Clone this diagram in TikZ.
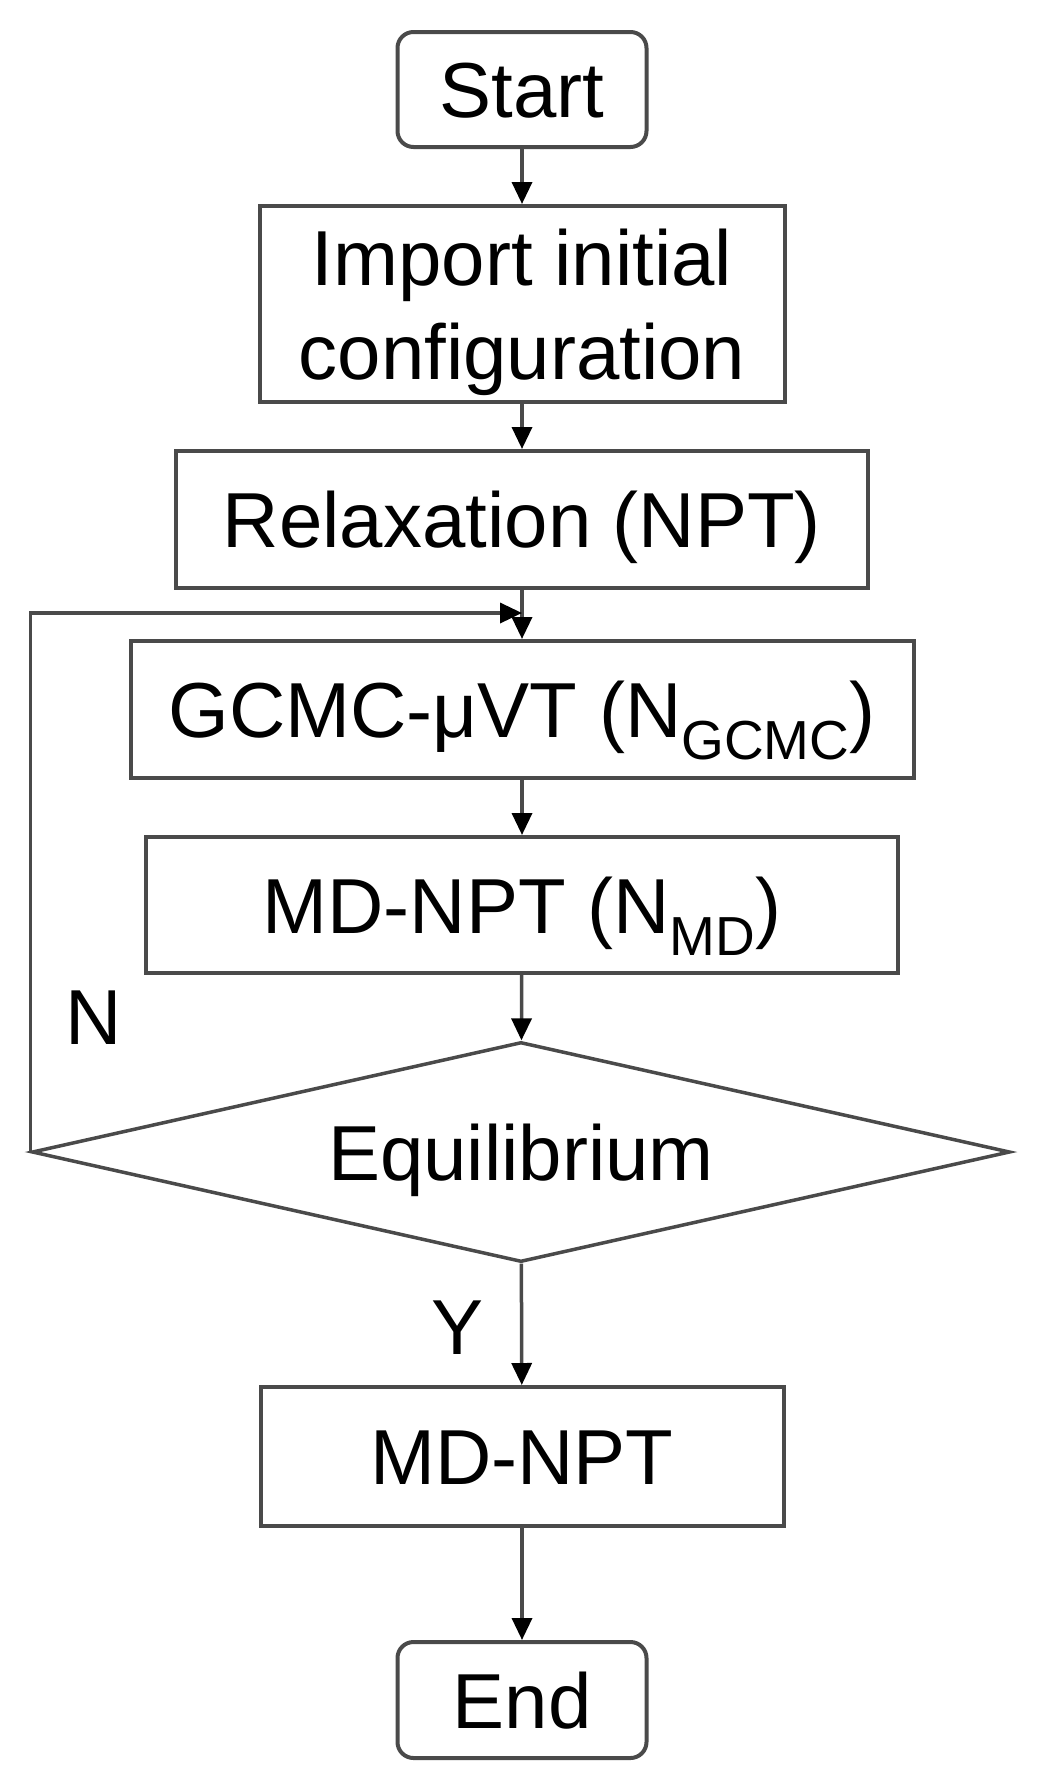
\documentclass[tikz,border=0pt]{standalone}
\usepackage{fontspec}
\setmainfont{Liberation Sans}
\usetikzlibrary{arrows.meta,shapes.geometric}
\definecolor{linegray}{HTML}{4A4A4A}
\newcommand\flowfont{\fontsize{78}{94}\selectfont}
\newcommand\lowsub[1]{\raisebox{-22pt}{\fontsize{55}{60}\selectfont #1}}
\begin{document}
\begin{tikzpicture}[x=1pt,y=-1pt,
  box/.style={draw=linegray, line width=4pt, inner sep=0pt, font=\flowfont,
              text height=56pt, text depth=0pt},
  termbox/.style={box, rounded corners=16pt},
  decision/.style={draw=linegray, line width=3.5pt, diamond, aspect=4.45,
              inner sep=0pt, font=\flowfont, text height=56pt, text depth=0pt},
  lbl/.style={inner sep=0pt, font=\flowfont, text height=56pt, text depth=0pt},
  conn/.style={draw=linegray, line width=3.5pt,
               -{Triangle[width=20pt,length=22pt,color=black]}}
]
\useasboundingbox (0,0) rectangle (1045,1780);
\fill[white] (0,0) rectangle (1045,1780);

\node[termbox, minimum width=249pt, minimum height=115pt] (start) at (522,89.5) {Start};
\node[box, minimum width=525pt, minimum height=196pt, align=center, text height=, text depth=0pt] (import) at (522,304)
  {Import initial\\configuration};
\node[box, minimum width=692pt, minimum height=137pt] (relax) at (522,519.5) {Relaxation (NPT)};
\node[box, minimum width=783pt, minimum height=137pt] (gcmc) at (522,709.5) {GCMC-μVT (N\lowsub{GCMC})};
\node[box, minimum width=752pt, minimum height=136pt] (mdn) at (522,905) {MD-NPT (N\lowsub{MD})};
\node[decision, minimum width=978pt, minimum height=220pt] (eq) at (521,1152) {Equilibrium};
\node[box, minimum width=523pt, minimum height=139pt] (md) at (522,1456.5) {MD-NPT};
\node[termbox, minimum width=249pt, minimum height=116pt] (end) at (522,1700) {End};

\node[lbl] (nlbl) at (94,1016) {N};
\node[lbl] (ylbl) at (458,1326) {Y};

\coordinate (join) at (522,613);

\draw[conn] (start) -- (import);
\draw[conn] (import) -- (relax);
\draw[conn] (relax) -- (gcmc);
\draw[conn] (gcmc) -- (mdn);
\draw[conn] (mdn) -- (eq);
\draw[conn] (eq) -- (md);
\draw[conn] (md) -- (end);
\draw[conn] (eq.west) |- (join);
\end{tikzpicture}
\end{document}
